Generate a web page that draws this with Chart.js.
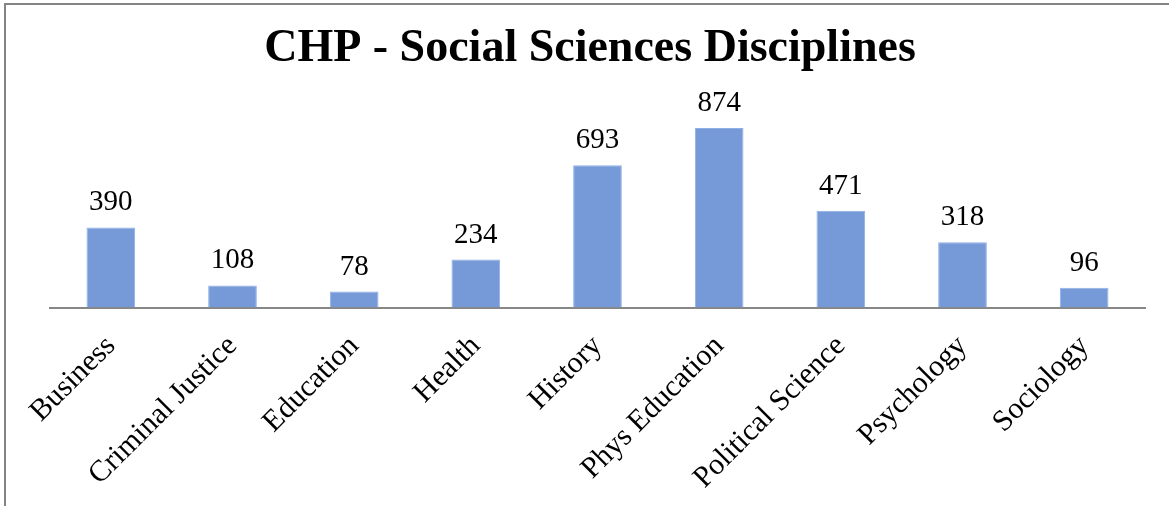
<!DOCTYPE html>
<html lang="en">
<head>
  <meta charset="UTF-8" />
  <title>CHP - Social Sciences Disciplines</title>
  <script src="https://cdn.jsdelivr.net/npm/chart.js"></script>
  <style>
    body {
      margin: 0;
      background: #ffffff;
    }

    .frame {
      position: absolute;
      left: 4px;
      top: 3px;
      right: 0;
      bottom: 0;
      border-left: 2px solid #848484;
      border-top: 2px solid #848484;
    }

    .chart-box {
      position: absolute;
      left: 0;
      top: 0;
      width: 1169px;
      height: 506px;
    }
  </style>
</head>
<body>

  <div class="frame"></div>
  <div class="chart-box">
    <canvas id="disciplineChart"></canvas>
  </div>

  <script>
    const disciplines = [
      'Business', 'Criminal Justice', 'Education', 'Health', 'History',
      'Phys Education', 'Political Science', 'Psychology', 'Sociology'
    ];
    const counts = [390, 108, 78, 234, 693, 874, 471, 318, 96];

    const serif = '"Liberation Serif", "Times New Roman", serif';

    // numbers above the bars
    const valueLabels = {
      id: 'valueLabels',
      afterDatasetsDraw(chart) {
        const { ctx } = chart;
        const meta = chart.getDatasetMeta(0);
        ctx.save();
        ctx.font = '29px ' + serif;
        ctx.fillStyle = '#000000';
        ctx.textAlign = 'center';
        ctx.textBaseline = 'alphabetic';
        meta.data.forEach((bar, i) => {
          ctx.fillText(String(counts[i]), bar.x, bar.y - 17);
        });
        ctx.restore();
      }
    };

    new Chart(document.getElementById('disciplineChart'), {
      type: 'bar',
      data: {
        labels: disciplines,
        datasets: [{
          data: counts,
          backgroundColor: '#7699d8',
          borderColor: '#8fb0e6',
          borderWidth: 1,
          barPercentage: 0.4,
          categoryPercentage: 1.0
        }]
      },
      options: {
        responsive: true,
        maintainAspectRatio: false,
        animation: false,
        layout: {
          padding: { left: 35, right: 24, top: 0, bottom: -11 }
        },
        plugins: {
          legend: { display: false },
          tooltip: { enabled: false },
          title: {
            display: true,
            text: 'CHP - Social Sciences Disciplines',
            color: '#000000',
            font: { family: serif, size: 46, weight: 'bold', lineHeight: 1.2 },
            padding: { top: 22, bottom: 25 }
          }
        },
        scales: {
          x: {
            grid: { display: false, drawTicks: false },
            border: { display: true, color: '#878787', width: 2 },
            ticks: {
              color: '#000000',
              font: { family: serif, size: 30 },
              minRotation: 45,
              maxRotation: 45,
              autoSkip: false,
              padding: 21
            }
          },
          y: {
            // hidden axis, only keeps the plot a little in from the left
            display: true,
            min: 0,
            max: 1000,
            grid: { display: false, drawTicks: false },
            border: { display: false },
            ticks: { display: false },
            afterFit(scale) {
              scale.width = 15;
            }
          }
        }
      },
      plugins: [valueLabels]
    });
  </script>
</body>
</html>
